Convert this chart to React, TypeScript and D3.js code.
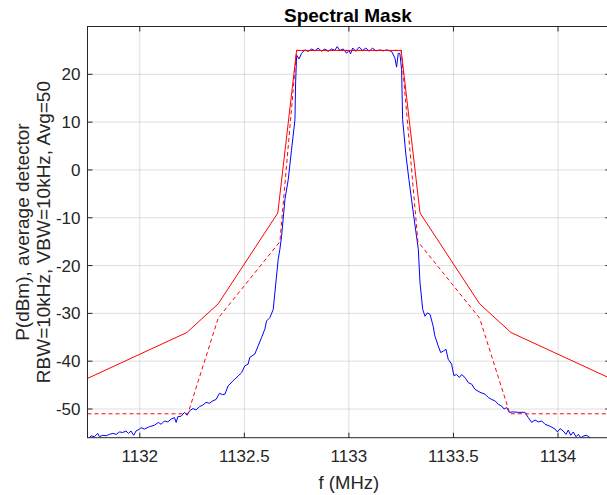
import React, { useEffect, useRef } from 'react';
import * as d3 from 'd3';

// mask limits (upper = solid, lower = dashed)
const maskFreq = [1131.75, 1132.225, 1132.375, 1132.66, 1132.75, 1133.25, 1133.34, 1133.625, 1133.775, 1134.25];
const maskPower = [-43.6, -34, -28, -9, 25, 25, -9, -28, -34, -43.6];
const lowerFreq = [1131.75, 1132.23, 1132.375, 1132.67, 1132.75, 1133.25, 1133.33, 1133.625, 1133.77, 1134.25];
const lowerPower = [-51, -51, -31, -15, 25, 25, -15, -31, -51, -51];

const specFreq = [
  1131.751, 1131.767, 1131.783, 1131.799, 1131.807, 1131.823, 1131.839, 1131.855, 1131.871, 1131.887,
  1131.903, 1131.919, 1131.934, 1131.946, 1131.958, 1131.971, 1131.982, 1131.999, 1132.006, 1132.022,
  1132.046, 1132.070, 1132.089, 1132.102, 1132.118, 1132.134, 1132.150, 1132.166, 1132.174, 1132.182,
  1132.198, 1132.214, 1132.226, 1132.238, 1132.254, 1132.269, 1132.286, 1132.301, 1132.317, 1132.333,
  1132.349, 1132.365, 1132.381, 1132.395, 1132.407, 1132.422, 1132.446, 1132.470, 1132.487, 1132.502,
  1132.518, 1132.526, 1132.550, 1132.566, 1132.582, 1132.598, 1132.606, 1132.622, 1132.638, 1132.646,
  1132.654, 1132.662, 1132.670, 1132.678, 1132.694, 1132.710, 1132.725, 1132.742, 1132.745, 1132.749,
  1132.750, 1132.761, 1132.774, 1132.789, 1132.805, 1132.822, 1132.837, 1132.853, 1132.869, 1132.885,
  1132.901, 1132.917, 1132.933, 1132.944, 1132.957, 1132.973, 1132.989, 1133.000, 1133.008, 1133.018,
  1133.033, 1133.049, 1133.066, 1133.081, 1133.097, 1133.113, 1133.129, 1133.148, 1133.164, 1133.180,
  1133.204, 1133.220, 1133.228, 1133.236, 1133.244, 1133.252, 1133.257, 1133.273, 1133.287, 1133.308,
  1133.332, 1133.340, 1133.353, 1133.364, 1133.375, 1133.388, 1133.403, 1133.411, 1133.427, 1133.439,
  1133.451, 1133.464, 1133.475, 1133.491, 1133.502, 1133.515, 1133.528, 1133.539, 1133.555, 1133.571,
  1133.587, 1133.603, 1133.627, 1133.651, 1133.667, 1133.683, 1133.699, 1133.714, 1133.731, 1133.742,
  1133.755, 1133.767, 1133.786, 1133.810, 1133.842, 1133.858, 1133.874, 1133.890, 1133.906, 1133.922,
  1133.938, 1133.962, 1133.986, 1133.997, 1134.010, 1134.025, 1134.038, 1134.049, 1134.061, 1134.073,
  1134.086, 1134.097, 1134.109, 1134.124, 1134.137, 1134.153, 1134.167, 1134.250
];
const specPower = [
  -56.5, -55.6, -55.8, -55.1, -55.8, -55.5, -55.6, -55.3, -55.1, -55.3,
  -54.8, -54.9, -54.6, -55.1, -54.6, -55.5, -54.6, -54.2, -53.9, -54.2,
  -53.7, -53.4, -52.8, -53.2, -52.5, -52.7, -52.1, -51.8, -52.8, -51.6,
  -51.5, -50.7, -51.3, -50.4, -49.9, -50.2, -49.5, -49.2, -48.6, -48.8,
  -48.3, -48.0, -46.7, -47.0, -46.9, -45.2, -44.1, -43.1, -42.4, -41.0,
  -40.6, -39.2, -38.5, -36.8, -35.1, -33.3, -31.6, -30.9, -29.2, -25.7,
  -22.2, -18.7, -16.6, -13.9, -6.2, -2.0, 4.0, 10.5, 18.0, 22.7,
  24.0, 23.2, 24.4, 25.1, 24.8, 25.3, 24.9, 25.5, 24.8, 25.3,
  24.8, 25.3, 25.0, 25.8, 25.0, 25.3, 24.4, 25.0, 24.3, 25.5,
  24.8, 25.7, 25.0, 25.5, 24.8, 25.5, 24.9, 25.1, 24.9, 25.1,
  24.8, 23.4, 21.5, 24.4, 24.3, 21.0, 10.5, 3.0, -2.0, -9.0,
  -16.6, -23.6, -29.2, -30.6, -29.9, -30.2, -32.7, -34.7, -36.8, -38.2,
  -37.9, -37.5, -39.6, -40.6, -43.0, -42.8, -43.4, -42.8, -43.4, -44.5,
  -44.8, -45.9, -46.5, -46.9, -47.6, -48.0, -48.3, -49.0, -49.4, -50.0,
  -49.7, -50.7, -50.6, -50.7, -50.7, -51.8, -52.8, -52.3, -52.7, -52.5,
  -53.2, -53.6, -54.2, -54.8, -54.1, -54.6, -55.3, -54.4, -55.5, -54.8,
  -55.8, -55.3, -56.0, -55.6, -55.5, -56.0, -57.0, -57.5
];

const xTicks = [1132, 1132.5, 1133, 1133.5, 1134];
const yTicks = [-50, -40, -30, -20, -10, 0, 10, 20];

const W = 607;
const H = 495;
const font = 'Liberation Sans, Arial, sans-serif';
const axisColor = '#262626';

const App = () => {
  const svgRef = useRef<SVGSVGElement | null>(null);

  useEffect(() => {
    if (!svgRef.current) return;
    const svg = d3.select(svgRef.current);
    svg.selectAll('*').remove();

    const left = 87.5, right = 610.3, top = 26.5, bottom = 437.7;
    const x = d3.scaleLinear().domain([1131.75, 1134.25]).range([left, right]);
    const y = d3.scaleLinear().domain([-56, 30]).range([bottom, top]);

    svg.append('rect').attr('width', W).attr('height', H).attr('fill', '#fff');

    svg.append('defs').append('clipPath').attr('id', 'plot-clip')
      .append('rect')
      .attr('x', left).attr('y', top)
      .attr('width', right - left).attr('height', bottom - top);

    // grid
    const grid = svg.append('g').attr('stroke', axisColor).attr('stroke-opacity', 0.15).attr('stroke-width', 1);
    xTicks.forEach(t => {
      grid.append('line').attr('x1', x(t)).attr('x2', x(t)).attr('y1', top).attr('y2', bottom);
    });
    yTicks.forEach(t => {
      grid.append('line').attr('x1', left).attr('x2', right).attr('y1', y(t)).attr('y2', y(t));
    });

    const plot = svg.append('g').attr('clip-path', 'url(#plot-clip)');
    const line = d3.line<[number, number]>().x(d => x(d[0])).y(d => y(d[1]));

    plot.append('path')
      .datum(specFreq.map((f, i) => [f, specPower[i]] as [number, number]))
      .attr('d', line)
      .attr('fill', 'none')
      .attr('stroke', '#0000ff')
      .attr('stroke-width', 1);

    plot.append('path')
      .datum(maskFreq.map((f, i) => [f, maskPower[i]] as [number, number]))
      .attr('d', line)
      .attr('fill', 'none')
      .attr('stroke', '#ff0000')
      .attr('stroke-width', 1);

    plot.append('path')
      .datum(lowerFreq.map((f, i) => [f, lowerPower[i]] as [number, number]))
      .attr('d', line)
      .attr('fill', 'none')
      .attr('stroke', '#ff0000')
      .attr('stroke-width', 1)
      .attr('stroke-dasharray', '4,3');

    // box + inward ticks on all sides
    const tickLen = 5;
    const ax = svg.append('g').attr('stroke', axisColor).attr('stroke-width', 1);
    ax.append('rect')
      .attr('x', left).attr('y', top)
      .attr('width', right - left).attr('height', bottom - top)
      .attr('fill', 'none');
    xTicks.forEach(t => {
      ax.append('line').attr('x1', x(t)).attr('x2', x(t)).attr('y1', bottom).attr('y2', bottom - tickLen);
      ax.append('line').attr('x1', x(t)).attr('x2', x(t)).attr('y1', top).attr('y2', top + tickLen);
    });
    yTicks.forEach(t => {
      ax.append('line').attr('x1', left).attr('x2', left + tickLen).attr('y1', y(t)).attr('y2', y(t));
      ax.append('line').attr('x1', right).attr('x2', right - tickLen).attr('y1', y(t)).attr('y2', y(t));
    });

    // tick labels
    svg.append('g')
      .selectAll('text')
      .data(xTicks)
      .join('text')
      .attr('x', d => x(d))
      .attr('y', bottom + 24)
      .attr('text-anchor', 'middle')
      .attr('fill', axisColor)
      .style('font-family', font)
      .style('font-size', '17px')
      .text(d => String(d));

    svg.append('g')
      .selectAll('text')
      .data(yTicks)
      .join('text')
      .attr('x', left - 7)
      .attr('y', d => y(d))
      .attr('dy', '0.35em')
      .attr('text-anchor', 'end')
      .attr('fill', axisColor)
      .style('font-family', font)
      .style('font-size', '17px')
      .text(d => String(d));

    // labels
    svg.append('text')
      .attr('x', (left + right) / 2)
      .attr('y', 489)
      .attr('text-anchor', 'middle')
      .attr('fill', axisColor)
      .style('font-family', font)
      .style('font-size', '18.5px')
      .text('f (MHz)');

    const yl = svg.append('text')
      .attr('transform', `translate(0,${(top + bottom) / 2}) rotate(-90)`)
      .attr('text-anchor', 'middle')
      .attr('fill', axisColor)
      .style('font-family', font)
      .style('font-size', '19px');
    yl.append('tspan').attr('x', 0).attr('y', 29).text('P(dBm), average detector');
    yl.append('tspan').attr('x', 0).attr('y', 50).text('RBW=10kHz, VBW=10kHz, Avg=50');

    svg.append('text')
      .attr('x', (left + right) / 2 - 1)
      .attr('y', 22)
      .attr('text-anchor', 'middle')
      .attr('fill', '#000')
      .style('font-family', font)
      .style('font-size', '19px')
      .style('font-weight', 'bold')
      .text('Spectral Mask');
  }, []);

  return (
    <div style={{ position: 'absolute', left: 0, top: 0 }}>
      <svg ref={svgRef} width={W} height={H} style={{ display: 'block' }} />
    </div>
  );
};

export default App;
